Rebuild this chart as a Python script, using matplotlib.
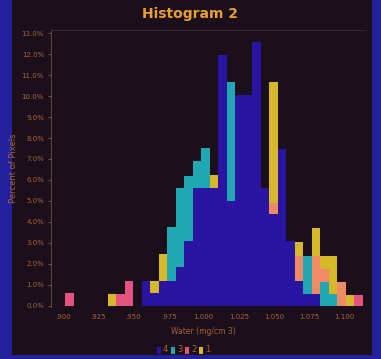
import numpy as np
import matplotlib
matplotlib.use("Agg")
import matplotlib.pyplot as plt
from matplotlib.patches import Rectangle

# percent of pixels per bin, stacked bottom -> top
bin_start = 0.9015
bin_width = 0.00605
blue4 = [0, 0, 0, 0, 0, 0, 0, 0, 0, 1.19, 0.60, 1.19, 1.19, 1.83, 3.09, 5.60, 5.63, 5.63,
         11.97, 5.00, 10.06, 10.06, 12.60, 5.63, 4.36, 7.50, 3.09, 1.19, 0.56, 0.56,
         0, 0, 0, 0, 0]
teal3 = [0, 0, 0, 0, 0, 0, 0, 0, 0, 0, 0, 0, 2.54, 3.80, 3.12, 1.29, 1.90, 0,
         0, 5.70, 0, 0, 0, 0, 0, 0, 0, 0, 1.82, 0,
         1.11, 0.56, 0, 0, 0]
salmon = [0, 0, 0, 0, 0, 0, 0, 0, 0, 0, 0, 0, 0, 0, 0, 0, 0, 0,
          0, 0, 0, 0, 0, 0, 0.56, 0, 0, 1.19, 0, 1.82,
          0.64, 0, 1.11, 0, 0]
pink2 = [0.60, 0, 0, 0, 0, 0, 0.56, 1.19, 0, 0, 0, 0, 0, 0, 0, 0, 0, 0,
         0, 0, 0, 0, 0, 0, 0, 0, 0, 0, 0, 0,
         0, 0, 0, 0, 0.48]
yellow1 = [0, 0, 0, 0, 0, 0.56, 0, 0, 0, 0, 0.59, 1.27, 0, 0, 0, 0, 0, 0.60,
           0, 0, 0, 0, 0, 0, 5.78, 0, 0, 0.66, 0, 1.30,
           0.63, 1.82, 0, 0.48, 0]

xticks = [0.900, 0.925, 0.950, 0.975, 1.000, 1.025, 1.050, 1.075, 1.100]
xticklabels = [".900", ".925", ".950", ".975", "1.000", "1.025", "1.050", "1.075", "1.100"]
yticks = np.arange(0, 14)
legend_labels = ["4", "3", "2", "1"]

BG_OUT = "#22209a"
BG_IN = "#1b0f1c"
TXT = "#a8643a"
C_BLUE = "#2a14a2"
C_TEAL = "#1fa8b4"
C_SALMON = "#f08a66"
C_PINK = "#e6527e"
C_YELLOW = "#d6b82a"

fig = plt.figure(figsize=(3.81, 3.59), dpi=100, facecolor=BG_OUT)
# dark panel behind everything
bg = fig.add_axes([12 / 381, 4 / 359, 360 / 381, 355 / 359], zorder=-5)
bg.set_facecolor(BG_IN)
bg.set_xticks([]); bg.set_yticks([])
for s in bg.spines.values():
    s.set_visible(False)

ax = fig.add_axes([51 / 381, 52 / 359, 315 / 381, 277 / 359], zorder=1)
ax.set_facecolor(BG_IN)

n = len(blue4)
lefts = bin_start + bin_width * np.arange(n)
bottom = np.zeros(n)
for vals, col in [(blue4, C_BLUE), (teal3, C_TEAL), (salmon, C_SALMON),
                  (pink2, C_PINK), (yellow1, C_YELLOW)]:
    v = np.array(vals)
    ax.bar(lefts, v, width=bin_width, bottom=bottom, align="edge", color=col,
           edgecolor="none", linewidth=0)
    bottom += v

ax.set_xlim(0.8912, 1.1157)
ax.set_ylim(-0.07, 13.16)
ax.set_xticks(xticks)
ax.set_xticklabels(xticklabels)
ax.set_yticks(yticks)
ax.set_yticklabels([f"{t:.1f}%" for t in yticks])
ax.tick_params(axis="both", colors=TXT, labelsize=5, length=2, width=0.5, pad=3)
ax.tick_params(axis="x", length=0, pad=5)

for s in ["right", "bottom"]:
    ax.spines[s].set_visible(False)
ax.spines["left"].set_color("#6a5238")
ax.spines["left"].set_linewidth(0.6)
ax.spines["top"].set_color("#3a3034")
ax.spines["top"].set_linewidth(0.6)

ax.set_xlabel("Water (mg/cm 3)", color=TXT, fontsize=5.5)
ax.xaxis.set_label_coords((203 - 51) / 315, -(327 - 307) / 277)
ax.set_ylabel("Percent of Pixels", color=TXT, fontsize=6)
ax.yaxis.set_label_coords(-(51 - 18) / 315, 0.5)

fig.text(190 / 381, 1 - 14 / 359, "Histogram 2", color="#e8a032", fontsize=10,
         fontweight="bold", ha="center", va="center")

# legend row at bottom
leg_cols = [C_BLUE, C_TEAL, C_PINK, C_YELLOW]
x0 = 157
for i, (lab, col) in enumerate(zip(legend_labels, leg_cols)):
    xp = x0 + i * 14
    fig.patches.append(Rectangle((xp / 381, 1 - 354 / 359), 4 / 381, 7 / 359,
                                 transform=fig.transFigure, facecolor=col,
                                 edgecolor="none", zorder=3))
    fig.text((xp + 6) / 381, 1 - 350 / 359, lab, color=TXT, fontsize=6, ha="left",
             va="center", zorder=3)

fig.savefig("out.png", dpi=100, facecolor=BG_OUT)
